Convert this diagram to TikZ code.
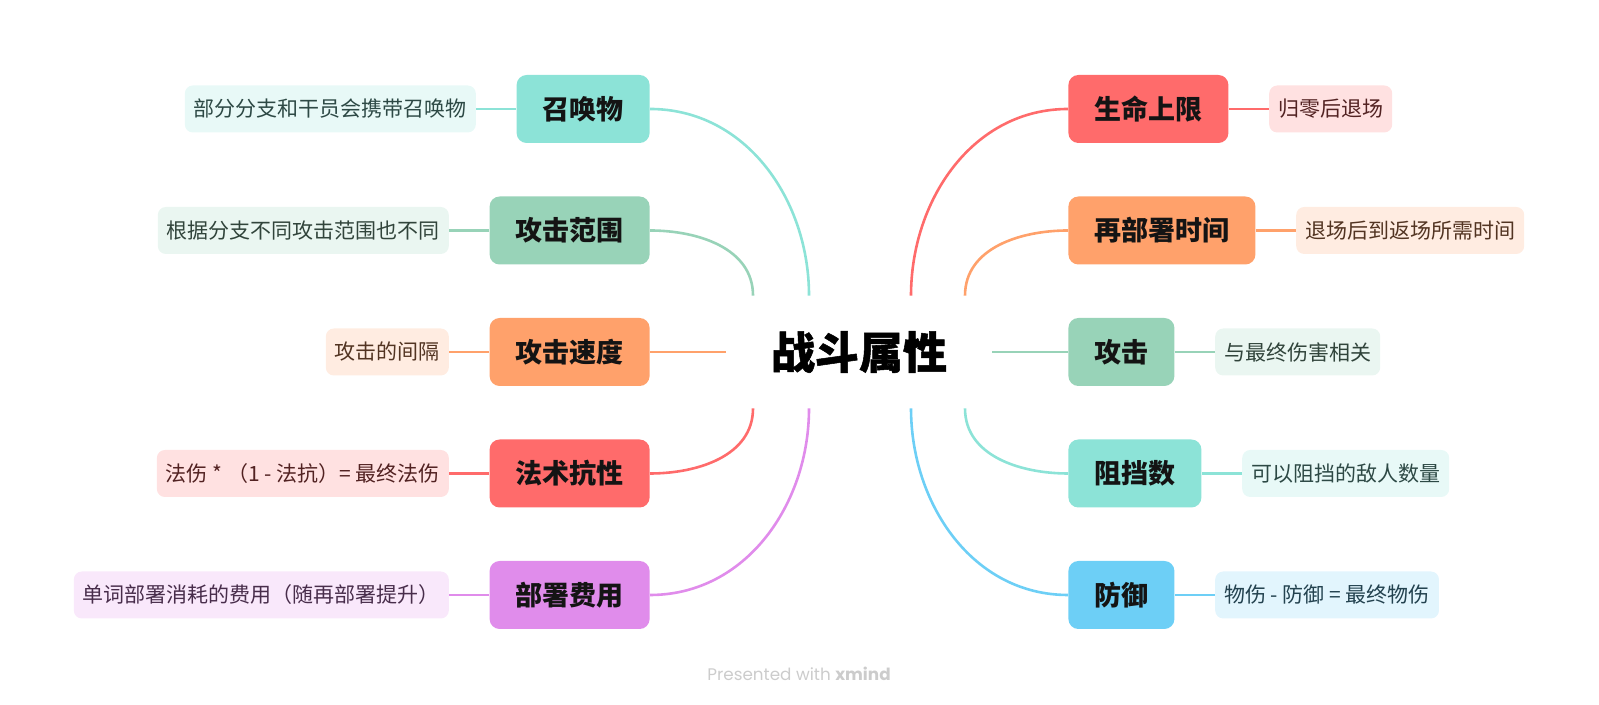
\documentclass[tikz,border=0pt]{standalone}
\usepackage{fontspec}
\setmainfont{Noto Sans CJK SC}
\newfontfamily\rootfont{Noto Sans CJK SC}[BoldFeatures={FakeBold=1.2}]
\newfontfamily\brandfont{Poppins}
\usepackage{tikz}
\usetikzlibrary{positioning}
\def\dx{20pt}
\definecolor{cRed}{HTML}{FF6B6B}
\definecolor{cOrange}{HTML}{FFA16B}
\definecolor{cGreen}{HTML}{98D3B8}
\definecolor{cTeal}{HTML}{8CE3D7}
\definecolor{cPurple}{HTML}{E08CEB}
\definecolor{cBlue}{HTML}{6DCFF6}
\tikzstyle{root}=[minimum width=133pt,minimum height=56pt,inner sep=0pt,
    font=\rootfont\bfseries\fontsize{22}{26}\selectfont]
\tikzstyle{topic}=[rounded corners=5pt,minimum height=34pt,inner xsep=13pt,
    inner ysep=0pt,text=black!92,font=\bfseries\fontsize{13.5}{16}\selectfont]
\tikzstyle{note}=[rounded corners=4pt,minimum height=23.5pt,inner xsep=4.5pt,
    inner ysep=0pt,font=\fontsize{10.5}{12}\selectfont]
\tikzstyle{link}=[line width=1.3pt]
\tikzset{paint/.style={fill=#1!20,text=#1!32!black}}
\newcommand{\newTopic}[4]{\node[topic,fill=#3](#1)[#4]{#2};}
\newcommand{\newNote}[4]{\node[note,paint=#3](#1)[#4]{#2};}
\newcommand{\newLink}[3]{\draw[link,#3] (#1) -- (#2);}
\newcommand{\newBranch}[4]{\draw[link,#4] (#1) to[#3] (#2);}

\begin{document}
\begin{tikzpicture}[x=0.5pt,y=0.5pt,node distance=\dx]
    \useasboundingbox (0,0) rectangle (1599,705);
    \node[root](root) at (859,353) {战斗属性};
    \newTopic{zhaohuan}{召唤物}{cTeal}{anchor=east,at={(650,596)}}
    \newTopic{fanwei}{攻击范围}{cGreen}{anchor=east,at={(650,474.5)}}
    \newTopic{sudu}{攻击速度}{cOrange}{anchor=east,at={(650,353)}}
    \newTopic{kangxing}{法术抗性}{cRed}{anchor=east,at={(650,231.5)}}
    \newTopic{feiyong}{部署费用}{cPurple}{anchor=east,at={(650,110)}}
    \newTopic{shengming}{生命上限}{cRed}{anchor=west,at={(1068,596)}}
    \newTopic{zaibushu}{再部署时间}{cOrange}{anchor=west,at={(1068,474.5)}}
    \newTopic{gongji}{攻击}{cGreen}{anchor=west,at={(1068,353)}}
    \newTopic{zudang}{阻挡数}{cTeal}{anchor=west,at={(1068,231.5)}}
    \newTopic{fangyu}{防御}{cBlue}{anchor=west,at={(1068,110)}}
    \newNote{nZhaohuan}{部分分支和干员会携带召唤物}{cTeal}{left=of zhaohuan}
    \newNote{nFanwei}{根据分支不同攻击范围也不同}{cGreen}{left=of fanwei}
    \newNote{nSudu}{攻击的间隔}{cOrange}{left=of sudu}
    \newNote{nKangxing}{法伤 * （1 - 法抗）= 最终法伤}{cRed}{left=of kangxing}
    \newNote{nFeiyong}{单词部署消耗的费用（随再部署提升）}{cPurple}{left=of feiyong}
    \newNote{nShengming}{归零后退场}{cRed}{right=of shengming}
    \newNote{nZaibushu}{退场后到返场所需时间}{cOrange}{right=of zaibushu}
    \newNote{nGongji}{与最终伤害相关}{cGreen}{right=of gongji}
    \newNote{nZudang}{可以阻挡的敌人数量}{cTeal}{right=of zudang}
    \newNote{nFangyu}{物伤 - 防御 = 最终物伤}{cBlue}{right=of fangyu}
    \newBranch{[xshift=-25pt]root.north}{zhaohuan.east}{out=90,in=0}{cTeal}
    \newBranch{[xshift=-53pt]root.north}{fanwei.east}{out=90,in=0}{cGreen}
    \newLink{root.west}{sudu.east}{cOrange}
    \newBranch{[xshift=-53pt]root.south}{kangxing.east}{out=-90,in=0}{cRed}
    \newBranch{[xshift=-25pt]root.south}{feiyong.east}{out=-90,in=0}{cPurple}
    \newBranch{[xshift=26pt]root.north}{shengming.west}{out=90,in=180}{cRed}
    \newBranch{[xshift=53pt]root.north}{zaibushu.west}{out=90,in=180}{cOrange}
    \newLink{root.east}{gongji.west}{cGreen}
    \newBranch{[xshift=53pt]root.south}{zudang.west}{out=-90,in=180}{cTeal}
    \newBranch{[xshift=26pt]root.south}{fangyu.west}{out=-90,in=180}{cBlue}
    \newLink{zhaohuan}{nZhaohuan}{cTeal}
    \newLink{fanwei}{nFanwei}{cGreen}
    \newLink{sudu}{nSudu}{cOrange}
    \newLink{kangxing}{nKangxing}{cRed}
    \newLink{feiyong}{nFeiyong}{cPurple}
    \newLink{shengming}{nShengming}{cRed}
    \newLink{zaibushu}{nZaibushu}{cOrange}
    \newLink{gongji}{nGongji}{cGreen}
    \newLink{zudang}{nZudang}{cTeal}
    \newLink{fangyu}{nFangyu}{cBlue}
    \node[text=black!20,font=\brandfont\fontsize{8.4}{10}\selectfont](brand)
        at (799,31) {Presented with \textbf{xmind}};
\end{tikzpicture}
\end{document}
